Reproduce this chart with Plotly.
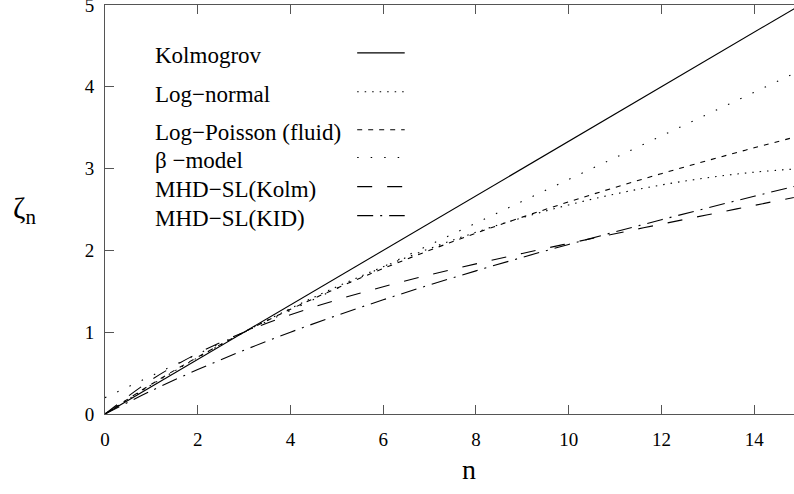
import plotly.graph_objects as go

# ---- data ----
n_vals = [0, 1, 2, 3, 4, 5, 6, 7, 8, 9, 10, 11, 12, 13, 14, 15]

kolmogorov = [0, 0.333, 0.667, 1.0, 1.333, 1.667, 2.0, 2.333, 2.667, 3.0,
              3.333, 3.667, 4.0, 4.333, 4.667, 5.0]
log_normal = [0, 0.356, 0.689, 1.0, 1.289, 1.556, 1.8, 2.022, 2.222, 2.4,
              2.556, 2.689, 2.8, 2.889, 2.956, 3.0]
log_poisson = [0, 0.364, 0.696, 1.0, 1.280, 1.538, 1.778, 2.001, 2.210, 2.407,
               2.593, 2.770, 2.938, 3.099, 3.254, 3.403]
beta_model = [0.2, 0.467, 0.733, 1.0, 1.267, 1.533, 1.8, 2.067, 2.333, 2.6,
              2.867, 3.133, 3.4, 3.667, 3.933, 4.2]
mhd_kolm = [0, 0.418, 0.741, 1.0, 1.213, 1.395, 1.556, 1.701, 1.835, 1.963,
            2.085, 2.204, 2.321, 2.436, 2.550, 2.663]
mhd_kid = [0, 0.284, 0.543, 0.780, 1.0, 1.205, 1.396, 1.578, 1.75, 1.915,
           2.073, 2.226, 2.375, 2.520, 2.662, 2.801]

series_names = ["Kolmogrov", "Log\u2212normal", "Log\u2212Poisson (fluid)",
                "\u03b2 \u2212model", "MHD\u2212SL(Kolm)", "MHD\u2212SL(KID)"]
series_values = [kolmogorov, log_normal, log_poisson, beta_model, mhd_kolm, mhd_kid]
series_dash = ["solid", "1.5px,6px", "5px,6px", "1.5px,12px", "15px,15px",
               "16px,7px,2px,7px"]
series_shape = ["linear", "spline", "spline", "linear", "spline", "spline"]

x_ticks = [0, 2, 4, 6, 8, 10, 12, 14]
y_ticks = [0, 1, 2, 3, 4, 5]

FONT = "Liberation Serif, Times New Roman, serif"

fig = go.Figure()
for name, vals, dash, shape in zip(series_names, series_values, series_dash, series_shape):
    fig.add_trace(go.Scatter(
        x=n_vals, y=vals, mode="lines", name=name,
        line=dict(color="black", width=1.1, dash=dash, shape=shape),
        showlegend=False,
    ))

# manual legend (text on the left, line sample on the right)
legend_y = [0.883, 0.788, 0.695, 0.627, 0.556, 0.485]
for name, dash, ly in zip(series_names, series_dash, legend_y):
    fig.add_shape(type="line", xref="paper", yref="paper",
                  x0=0.366, x1=0.435, y0=ly, y1=ly,
                  line=dict(color="black", width=1.1, dash=dash))
    fig.add_annotation(xref="paper", yref="paper", x=0.070, y=ly - 0.007,
                       xanchor="left", yanchor="middle", text=name,
                       showarrow=False,
                       font=dict(family=FONT, size=23, color="black"))

# axis titles
fig.add_annotation(xref="paper", yref="paper", x=-0.137, y=0.50,
                   xanchor="left", yanchor="middle", text="\u03b6<sub>n</sub>",
                   showarrow=False, font=dict(family=FONT, size=30, color="black"))
fig.add_annotation(xref="paper", yref="paper", x=0.529, y=-0.135,
                   xanchor="center", yanchor="middle", text="n",
                   showarrow=False, font=dict(family=FONT, size=28, color="black"))

axis_common = dict(
    showgrid=False, zeroline=False, showline=True, linecolor="#555555",
    linewidth=1, ticks="inside", ticklen=9, tickcolor="#555555", tickwidth=1,
    tickfont=dict(family=FONT, size=19, color="black"),
    ticklabeloverflow="allow", automargin=False,
)

fig.update_layout(
    width=794, height=494,
    margin=dict(l=105, r=0, t=5, b=80, autoexpand=False),
    paper_bgcolor="white", plot_bgcolor="white",
    font=dict(family=FONT),
    xaxis=dict(range=[0, 14.86], tickvals=x_ticks, mirror="ticks",
               ticklabelstandoff=8, **axis_common),
    yaxis=dict(range=[0, 5], tickvals=y_ticks, mirror=False,
               ticklabelstandoff=6, **axis_common),
)

fig.write_html("out.html", config={"displayModeBar": False},
               post_script="document.body.style.margin='0';")
